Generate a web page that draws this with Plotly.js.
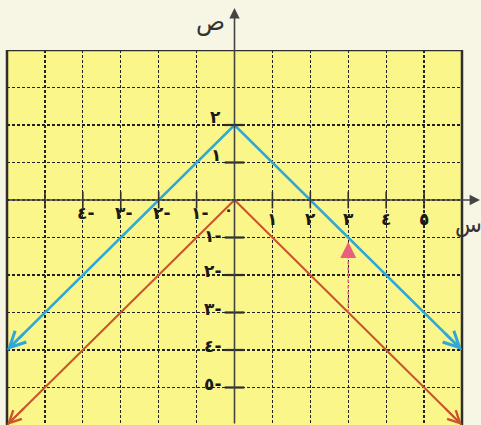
<!DOCTYPE html>
<html>
<head>
<meta charset="utf-8">
<script src="https://cdn.plot.ly/plotly-3.0.1.min.js"></script>
<style>html,body{margin:0;padding:0;background:#f7f6e4;}</style>
</head>
<body>
<div id="chart" style="width:481px;height:425px;"></div>
<script>
// ---- data ----
const blueX = [-6, 0, 6];
const blueY = [-4, 2, -4];
const redX = [-6, 0, 6];
const redY = [-6, 0, -6];
const xTickVals = [-5, -4, -3, -2, -1, 1, 2, 3, 4, 5];
const yTickVals = [2, 1, -1, -2, -3, -4, -5];
const xLabelVals = [-4, -3, -2, -1, 1, 2, 3, 4, 5];
const xLabelText = ['٤-', '٣-', '٢-', '١-', '١', '٢', '٣', '٤', '٥'];
const yLabelVals = [2, 1, -1, -2, -3, -4, -5];
const yLabelText = ['٢', '١', '١-', '٢-', '٣-', '٤-', '٥-'];
const pinkX = [3, 3];
const pinkY = [-3, -1.12];
const xAxisName = 'س';
const yAxisName = 'ص';
const originLabel = '٠';

const BLUE = '#2ea8d8', RED = '#c8562c', PINK = '#e8607e', INK = '#2e2e2e';
const FONT = 'DejaVu Sans';

const traces = [
  {x: redX, y: redY, mode: 'lines', line: {color: RED, width: 2}, hoverinfo: 'skip'},
  {x: blueX, y: blueY, mode: 'lines', line: {color: BLUE, width: 2.6}, hoverinfo: 'skip'},
  {x: pinkX, y: [pinkY[0], pinkY[1] - 0.35], mode: 'lines', line: {color: PINK, width: 1.5, dash: 'dot'}, hoverinfo: 'skip'},
  {x: xTickVals, y: xTickVals.map(() => 0), mode: 'markers', cliponaxis: false,
   marker: {symbol: 'line-ns-open', size: 12, color: INK, line: {color: INK, width: 1.6}}, hoverinfo: 'skip'},
  {x: yTickVals.map(() => 0), y: yTickVals, mode: 'markers', cliponaxis: false,
   marker: {symbol: 'line-ew-open', size: 14, color: INK, line: {color: INK, width: 2.2}}, hoverinfo: 'skip'}
];

const annotations = [];
// axis arrows
annotations.push({xref: 'paper', yref: 'y', x: (480 - 7) / 455, y: 0, ax: -473, ay: 0, text: '',
  showarrow: true, arrowhead: 2, arrowsize: 1.3, arrowwidth: 1.6, arrowcolor: '#444', standoff: 0});
annotations.push({xref: 'x', yref: 'paper', x: 0, y: (425 - 8) / 375, ax: 0, ay: 417, text: '',
  showarrow: true, arrowhead: 2, arrowsize: 1.3, arrowwidth: 1.6, arrowcolor: '#444', standoff: 0});
// line end arrows
function endArrow(xs, ys, i, j, color, w) {
  annotations.push({xref: 'x', yref: 'y', axref: 'x', ayref: 'y', x: xs[i], y: ys[i],
    ax: xs[i] + (xs[j] - xs[i]) * 0.08, ay: ys[i] + (ys[j] - ys[i]) * 0.08, text: '',
    showarrow: true, arrowhead: 5, arrowsize: 1.2, arrowwidth: w, arrowcolor: color, standoff: 0});
}
endArrow(blueX, blueY, 0, 1, BLUE, 2.6);
endArrow(blueX, blueY, 2, 1, BLUE, 2.6);
endArrow(redX, redY, 0, 1, RED, 2);
endArrow(redX, redY, 2, 1, RED, 2);
// pink arrow
annotations.push({xref: 'x', yref: 'y', x: pinkX[1], y: pinkY[1], ax: 0, ay: 16, text: '',
  showarrow: true, arrowhead: 2, arrowsize: 1.6, arrowwidth: 2, arrowcolor: PINK, standoff: 0});
// tick labels
xLabelVals.forEach((v, i) => {
  annotations.push({xref: 'x', yref: 'y', x: v, y: 0, text: xLabelText[i], showarrow: false,
    xshift: v < 0 ? 3 : 0, yshift: v < 0 ? -13 : -19,
    font: {family: FONT, size: 17, color: '#1a1a1a', weight: 'bold'}});
});
yLabelVals.forEach((v, i) => {
  annotations.push({xref: 'x', yref: 'y', x: 0, y: v, text: yLabelText[i], showarrow: false,
    xanchor: 'right', xshift: -12, yshift: v > 0 ? 8 : (v === -1 ? 2 : 4),
    font: {family: FONT, size: 17, color: '#1a1a1a', weight: 'bold'}});
});
annotations.push({xref: 'x', yref: 'y', x: 0, y: 0, text: originLabel, showarrow: false,
  xshift: -6, yshift: -10, font: {family: FONT, size: 15, color: '#222', weight: 'bold'}});
annotations.push({xref: 'paper', yref: 'y', x: (484 - 7) / 455, y: 0, text: xAxisName, showarrow: false,
  yshift: -25, font: {family: FONT, size: 22, color: '#333'}});
annotations.push({xref: 'x', yref: 'paper', x: 0, y: (425 - 6) / 375, text: yAxisName, showarrow: false,
  xshift: -24, font: {family: FONT, size: 24, color: '#333'}});

const shapes = [
  {type: 'line', xref: 'paper', yref: 'y', x0: 0, x1: 0, y0: -7, y1: 4, line: {color: INK, width: 2.5}},
  {type: 'line', xref: 'paper', yref: 'y', x0: 1, x1: 1, y0: -7, y1: 4, line: {color: INK, width: 2.5}},
  {type: 'line', xref: 'paper', yref: 'y', x0: 0, x1: 1, y0: 4, y1: 4, line: {color: INK, width: 2.5}}
];

const axisCommon = {showticklabels: false, zeroline: false, showline: false, ticks: '',
  showgrid: true, dtick: 1, tick0: 0, gridcolor: '#222', griddash: '3px,2px', gridwidth: 1.2, fixedrange: true};

const layout = {
  width: 481, height: 425,
  margin: {l: 7, r: 19, t: 50, b: 0},
  paper_bgcolor: '#f7f6e4', plot_bgcolor: '#fbf68a',
  showlegend: false,
  xaxis: Object.assign({range: [-6, 6]}, axisCommon),
  yaxis: Object.assign({range: [-6, 4]}, axisCommon),
  annotations: annotations,
  shapes: shapes
};

Plotly.newPlot('chart', traces, layout, {displayModeBar: false, staticPlot: true});
</script>
</body>
</html>
